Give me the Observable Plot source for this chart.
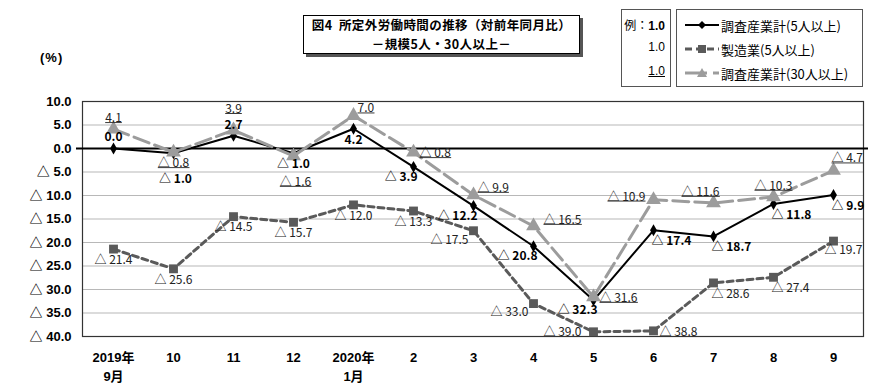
<!DOCTYPE html>
<html><head><meta charset="utf-8">
<script src="https://cdn.jsdelivr.net/npm/d3@7"></script>
<script src="https://cdn.jsdelivr.net/npm/@observablehq/plot@0.6"></script>
<style>
body{margin:0;background:#fff;}
#wrap{position:relative;width:890px;height:391px;overflow:hidden;font-family:"Liberation Sans","Noto Sans CJK JP",sans-serif;}
#chart svg{display:block;}
.title{position:absolute;left:303px;top:15px;width:275px;height:37px;border:1.5px solid #000;box-shadow:3px 3px 0 #555;background:#fff;font-family:"Noto Sans CJK JP",sans-serif;font-weight:bold;font-size:12.5px;text-align:center;line-height:18.5px;padding-top:0;letter-spacing:0.4px;}
.pct{position:absolute;left:40px;top:50px;font-weight:bold;font-size:13px;letter-spacing:1px;}
.lg1{position:absolute;left:621px;top:9px;width:48px;height:76px;border:1px solid #555;font-size:12px;}
.lg1 div{position:absolute;right:5px;}
.lg2{position:absolute;left:676px;top:9px;width:185px;height:76px;border:1px solid #555;font-family:"Noto Sans CJK JP",sans-serif;font-size:13px;}
.lg2 .row{position:absolute;left:8px;height:20px;display:flex;align-items:center;}
.lg2 svg{margin-right:2px;}
</style>
</head><body>
<div id="wrap">
<div id="chart"></div>
<div class="title">図4&nbsp;&nbsp;所定外労働時間の推移（対前年同月比）<br>－規模5人・30人以上－</div>
<div class="pct">(%)</div>
<div class="lg1">
  <div style="top:6px;"><span style="font-family:'Noto Sans CJK JP';">例：</span><b>1.0</b></div>
  <div style="top:30px;">1.0</div>
  <div style="top:54px;text-decoration:underline;">1.0</div>
</div>
<div class="lg2" id="lg2"></div>
</div>
<script>
// ---- data ----
const months = ["2019年\n9月","10","11","12","2020年\n1月","2","3","4","5","6","7","8","9"];
const seriesNames = ["調査産業計(5人以上)","製造業(5人以上)","調査産業計(30人以上)"];
const total5  = [0.0, -1.0, 2.7, -1.0, 4.2, -3.9, -12.2, -20.8, -32.3, -17.4, -18.7, -11.8, -9.9];
const mfg5    = [-21.4, -25.6, -14.5, -15.7, -12.0, -13.3, -17.5, -33.0, -39.0, -38.8, -28.6, -27.4, -19.7];
const total30 = [4.1, -0.8, 3.9, -1.6, 7.0, -0.8, -9.9, -16.5, -31.6, -10.9, -11.6, -10.3, -4.7];
const yTicks  = [10, 5, 0, -5, -10, -15, -20, -25, -30, -35, -40];

// label placement codes (relative to each point)
const total5Place  = ["n","s2","n","s","s","sw","sw","sw","sw","se","se","se","se"];
const mfg5Place    = ["s","s","s","s","s","s","sw2","sw2","w","e","se","se","se2"];
const total30Place = ["n","s","n2","s2","ne","e","ne","ne2","e","w2","nl","n","nr"];
const placeOffsets = {
  n:[0,-11,"middle"], n2:[0,-21,"middle"], s:[0,11,"middle"], s2:[2,26,"middle"],
  sw:[4,10,"end"], sw2:[-5,9,"end"], w:[-12,0,"end"], w2:[-8,-3,"end"],
  e:[6,1,"start"], se:[-2,11,"start"], se2:[-9,9,"start"],
  ne:[4,-7,"start"], ne2:[10,-6,"start"], nr:[-2,-12,"start"], nl:[6,-11,"end"]
};

const fmt = v => v < 0 ? "△ " + Math.abs(v).toFixed(1) : v.toFixed(1);
const rows = (vals, place) => vals.map((v, i) => ({x: months[i], y: v, text: fmt(v), pos: place[i]}));
const d1 = rows(total5, total5Place);
const d2 = rows(mfg5, mfg5Place);
const d3 = rows(total30, total30Place);

const labelFont = "'Liberation Sans Narrow','Noto Sans CJK JP',sans-serif";
function labelMarks(data, opts) {
  return Object.keys(placeOffsets).map(code => {
    const [dx, dy, anchor] = placeOffsets[code];
    return Plot.text(data.filter(d => d.pos === code), {
      x: "x", y: "y", text: "text", dx, dy, textAnchor: anchor,
      fontFamily: labelFont, fontSize: 12, ...opts
    });
  });
}

const c1 = "#000", c2 = "#5a5a5a", c3 = "#9c9c9c";
const underlineFill = "#232323"; // marks the underlined (30人以上) labels

const chart = Plot.plot({
  width: 890, height: 391,
  marginLeft: 82, marginRight: 27, marginTop: 101, marginBottom: 55,
  x: {type: "point", domain: months, padding: 0.5},
  y: {domain: [-40, 10]},
  style: {background: "#fff"},
  marks: [
    Plot.ruleY(yTicks.filter(t => t !== 0 && t !== 10 && t !== -40), {stroke: "#b8b8b8", strokeWidth: 1.2}),
    Plot.frame({stroke: "#333", strokeWidth: 1.2}),
    Plot.ruleY([0], {stroke: "#000", strokeWidth: 2, insetLeft: -6, insetRight: -5}),
    Plot.axisY({ticks: yTicks, tickFormat: d => d < 0 ? "△ " + Math.abs(d).toFixed(1) : d.toFixed(1),
      tickSize: 0, tickPadding: 11, fontSize: 13, fontWeight: "bold", label: null,
      fontFamily: "'Liberation Sans','Noto Sans CJK JP',sans-serif"}),
    Plot.axisX({tickSize: 0, tickPadding: 12, fontSize: 13, fontWeight: "bold", label: null, lineHeight: 1.45,
      fontFamily: "'Liberation Sans','Noto Sans CJK JP',sans-serif"}),
    // manufacturing
    Plot.line(d2, {x: "x", y: "y", stroke: c2, strokeWidth: 3, strokeDasharray: "6,4"}),
    Plot.dot(d2, {x: "x", y: "y", symbol: "square", r: 5, fill: c2}),
    // total 5+
    Plot.line(d1, {x: "x", y: "y", stroke: c1, strokeWidth: 2}),
    Plot.dot(d1, {x: "x", y: "y", symbol: "diamond", r: 3.6, fill: c1}),
    // total 30+
    Plot.line(d3, {x: "x", y: "y", stroke: c3, strokeWidth: 3, strokeDasharray: "16,6"}),
    Plot.dot(d3, {x: "x", y: "y", symbol: "triangle", r: 5.5, fill: c3}),
    ...labelMarks(d2, {fill: "#222"}),
    ...labelMarks(d1, {fill: "#000", fontWeight: "bold"}),
    ...labelMarks(d3, {fill: underlineFill})
  ]
});
document.getElementById("chart").appendChild(chart);

// underline the 30人以上 labels
const NS = "http://www.w3.org/2000/svg";
chart.querySelectorAll(`g[fill="${underlineFill}"] text`).forEach(t => {
  const b = t.getBBox();
  const ln = document.createElementNS(NS, "line");
  ln.setAttribute("x1", b.x);
  ln.setAttribute("x2", b.x + b.width);
  ln.setAttribute("y1", b.y + b.height - 2.5);
  ln.setAttribute("y2", b.y + b.height - 2.5);
  ln.setAttribute("stroke", underlineFill);
  ln.setAttribute("stroke-width", "0.9");
  if (t.getAttribute("transform")) ln.setAttribute("transform", t.getAttribute("transform"));
  t.parentNode.appendChild(ln);
});

// legend
const lg = document.getElementById("lg2");
const samples = [
  `<svg width="34" height="12"><line x1="0" y1="6" x2="34" y2="6" stroke="${c1}" stroke-width="2"/><path d="M17 2 L21 6 L17 10 L13 6 Z" fill="${c1}"/></svg>`,
  `<svg width="34" height="12"><line x1="0" y1="6" x2="34" y2="6" stroke="${c2}" stroke-width="3" stroke-dasharray="7,4"/><rect x="13" y="2" width="8" height="8" fill="${c2}"/></svg>`,
  `<svg width="34" height="12"><line x1="0" y1="6" x2="22" y2="6" stroke="${c3}" stroke-width="3"/><line x1="28" y1="6" x2="34" y2="6" stroke="${c3}" stroke-width="3"/><path d="M17 1 L22 10 L12 10 Z" fill="${c3}"/></svg>`
];
seriesNames.forEach((name, i) => {
  const r = document.createElement("div");
  r.className = "row";
  r.style.top = (5 + i * 24) + "px";
  r.innerHTML = samples[i] + `<span>${name}</span>`;
  lg.appendChild(r);
});
</script>
</body></html>
